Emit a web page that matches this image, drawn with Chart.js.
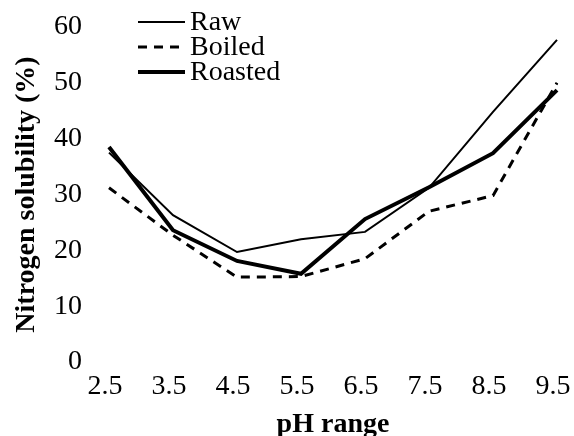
<!DOCTYPE html>
<html>
<head>
<meta charset="utf-8">
<script src="https://cdn.jsdelivr.net/npm/chart.js@4.4.0/dist/chart.umd.min.js"></script>
<style>
  html, body { margin: 0; padding: 0; background: #fff; }
  #wrap { width: 574px; height: 436px; position: relative; }
</style>
</head>
<body>
<div id="wrap"><canvas id="c"></canvas></div>
<script>
// values
const phLabels = ['2.5', '3.5', '4.5', '5.5', '6.5', '7.5', '8.5', '9.5'];
const raw      = [37.5, 26.3, 19.7, 22.0, 23.3, 31.2, 44.8, 57.7];
const boiled   = [31.2, 22.7, 15.2, 15.3, 18.5, 27.0, 29.8, 50.0];
const roasted  = [38.5, 23.6, 18.1, 15.8, 25.6, 31.3, 37.4, 48.7];
const yTicks   = [0, 10, 20, 30, 40, 50, 60];

const serif = '"Liberation Serif", "Times New Roman", serif';

// legend sits inside the plot, top left, so draw it by hand
const insideLegend = {
    id: 'insideLegend',
    afterDraw(chart) {
        const ctx = chart.ctx;
        ctx.save();
        ctx.font = '28px ' + serif;
        ctx.textBaseline = 'middle';
        ctx.fillStyle = '#000';
        chart.data.datasets.forEach((ds, i) => {
            const y = 22 + i * 25;
            ctx.beginPath();
            ctx.strokeStyle = ds.borderColor;
            ctx.lineWidth = ds.borderWidth;
            ctx.setLineDash(ds.borderDash || []);
            ctx.moveTo(138, y);
            ctx.lineTo(185, y);
            ctx.stroke();
            ctx.setLineDash([]);
            ctx.fillText(ds.label, 190, y + 1);
        });
        ctx.restore();
    }
};

new Chart(document.getElementById('c'), {
    type: 'line',
    data: {
        labels: phLabels,
        datasets: [
            { label: 'Raw', data: raw, borderColor: '#000', borderWidth: 2 },
            { label: 'Boiled', data: boiled, borderColor: '#000', borderWidth: 3, borderDash: [9, 7] },
            { label: 'Roasted', data: roasted, borderColor: '#000', borderWidth: 4 }
        ]
    },
    options: {
        responsive: true, maintainAspectRatio: false, animation: false,
        elements: { point: { radius: 0 }, line: { tension: 0 } },
        layout: { padding: { top: 27, right: 0, left: 0, bottom: 0 } },
        plugins: { legend: { display: false }, tooltip: { enabled: false } },
        scales: {
            x: {
                offset: false,
                afterFit: (s) => { s.height = 74; s.paddingRight = 17; },
                grid: { display: false, drawTicks: false },
                border: { display: false },
                ticks: { color: '#000', font: { family: serif, size: 28 }, padding: 8, labelOffset: -4, maxRotation: 0, autoSkip: false },
                title: { display: true, text: 'pH range', color: '#000', font: { family: serif, size: 28, weight: 'bold', lineHeight: 0.8 }, padding: { top: 0, bottom: 0 } }
            },
            y: {
                min: 0, max: 60,
                afterBuildTicks: (s) => { s.ticks = yTicks.map(v => ({ value: v })); },
                afterFit: (s) => { s.width = 109; s.paddingTop = 0; s.paddingBottom = 0; },
                grid: { display: false, drawTicks: false },
                border: { display: false },
                ticks: { color: '#000', font: { family: serif, size: 28 }, padding: 27 },
                title: { display: true, text: 'Nitrogen solubility (%)', color: '#000', font: { family: serif, size: 28, weight: 'bold' }, padding: { top: 10, bottom: 0 } }
            }
        }
    },
    plugins: [insideLegend]
});
</script>
</body>
</html>
